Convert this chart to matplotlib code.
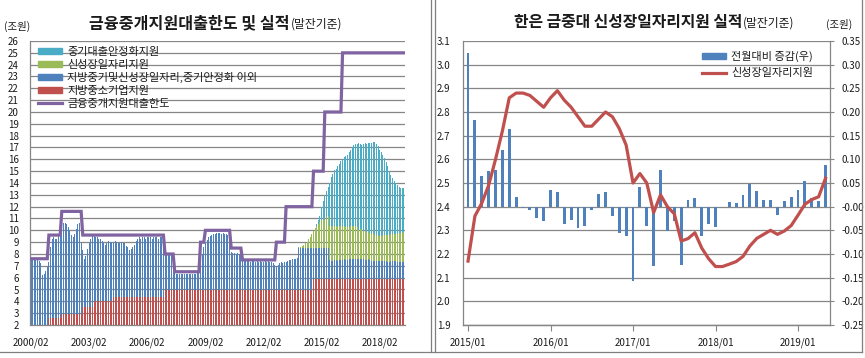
import matplotlib
matplotlib.use('Agg')
import matplotlib.pyplot as plt
import numpy as np
from matplotlib.patches import Patch
from matplotlib.lines import Line2D

plt.rcParams['font.family'] = ['Noto Sans CJK KR', 'DejaVu Sans']

# ---------------- Left chart data: monthly 2000/02 .. 2019/05 ----------------
left_tick_labels = ['2000/02', '2003/02', '2006/02', '2009/02', '2012/02', '2015/02', '2018/02']
left_tick_pos = [0, 36, 72, 108, 144, 180, 216]

# 지방중소기업지원
regional_sme = [
    1.9, 1.9, 1.9, 1.9, 1.9, 1.9, 1.9, 1.9, 1.9, 1.9, 1.9, 2.6,
    2.6, 2.6, 2.6, 2.6, 2.6, 2.6, 2.6, 2.9, 2.9, 2.9, 2.9, 2.9,
    2.9, 2.9, 2.9, 2.9, 2.9, 2.9, 2.9, 2.9, 3.5, 3.5, 3.5, 3.5,
    3.5, 3.5, 3.5, 4.0, 4.0, 4.0, 4.0, 4.0, 4.0, 4.0, 4.0, 4.0,
    4.0, 4.0, 4.0, 4.4, 4.4, 4.4, 4.4, 4.4, 4.4, 4.4, 4.4, 4.4,
    4.35, 4.35, 4.35, 4.35, 4.35, 4.35, 4.35, 4.35, 4.35, 4.35, 4.35, 4.35,
    4.35, 4.35, 4.35, 4.35, 4.35, 4.35, 4.35, 4.35, 4.35, 4.35, 4.35, 4.95,
    4.95, 4.95, 4.95, 4.95, 4.95, 4.95, 4.95, 4.95, 4.95, 4.95, 4.95, 4.95,
    4.95, 4.95, 4.95, 4.95, 4.95, 4.95, 4.95, 4.95, 4.95, 4.95, 4.95, 4.95,
    4.95, 4.95, 4.95, 4.95, 4.95, 4.95, 4.95, 4.95, 4.95, 4.95, 4.95, 4.95,
    4.95, 4.95, 4.95, 4.95, 4.95, 4.95, 4.95, 4.95, 4.95, 4.95, 4.95, 4.95,
    4.95, 4.95, 4.95, 4.95, 4.95, 4.95, 4.95, 4.95, 4.95, 4.95, 4.95, 4.95,
    4.95, 4.95, 4.95, 4.95, 4.95, 4.95, 4.95, 4.95, 4.95, 4.95, 4.95, 4.95,
    4.95, 4.95, 4.95, 4.95, 4.95, 4.95, 4.95, 4.95, 4.95, 4.95, 4.95, 4.95,
    4.95, 4.95, 4.95, 4.95, 4.95, 4.95, 4.95, 5.9, 5.9, 5.9, 5.9, 5.9,
    5.9, 5.9, 5.9, 5.9, 5.9, 5.9, 5.9, 5.9, 5.9, 5.9, 5.9, 5.9,
    5.9, 5.9, 5.9, 5.9, 5.9, 5.9, 5.9, 5.9, 5.9, 5.9, 5.9, 5.9,
    5.9, 5.9, 5.9, 5.9, 5.9, 5.9, 5.9, 5.9, 5.9, 5.9, 5.9, 5.9,
    5.9, 5.9, 5.9, 5.9, 5.9, 5.9, 5.9, 5.9, 5.9, 5.9, 5.9, 5.9,
    5.9, 5.9, 5.9, 5.9,
]

# 지방중기및신성장일자리,중기안정화 이외
other_support = [
    5.6, 5.6, 5.6, 5.6, 5.6, 5.5, 5.3, 4.3, 4.4, 4.7, 5.0, 4.7,
    6.0, 6.7, 6.8, 6.7, 6.7, 6.9, 7.4, 7.5, 7.7, 7.7, 7.6, 7.4,
    7.1, 6.7, 6.5, 6.8, 7.2, 7.6, 7.7, 6.0, 4.8, 4.1, 4.3, 4.9,
    5.4, 5.8, 6.0, 5.5, 5.4, 5.4, 5.3, 5.3, 5.1, 4.9, 4.8, 4.9,
    5.1, 5.0, 5.0, 4.5, 4.7, 4.6, 4.5, 4.5, 4.6, 4.5, 4.5, 4.3,
    4.25, 3.95, 4.05, 4.25, 4.45, 4.75, 4.95, 5.05, 4.95, 5.05, 5.05, 4.95,
    5.05, 5.05, 5.05, 4.95, 5.05, 5.05, 5.05, 4.95, 5.05, 5.05, 5.05, 3.05,
    2.95, 3.05, 2.95, 2.95, 2.65, 1.45, 1.35, 1.35, 1.35, 1.35, 1.35, 1.35,
    1.35, 1.35, 1.35, 1.35, 1.35, 1.35, 1.35, 1.45, 1.45, 2.55, 3.05, 3.65,
    3.95, 4.25, 4.45, 4.55, 4.65, 4.75, 4.75, 4.85, 4.85, 4.85, 4.75, 4.85,
    4.75, 4.75, 4.65, 4.75, 3.25, 3.15, 3.15, 3.05, 3.15, 3.05, 2.95, 2.45,
    2.45, 2.55, 2.45, 2.45, 2.35, 2.45, 2.45, 2.35, 2.45, 2.35, 2.45, 2.35,
    2.35, 2.45, 2.35, 2.45, 2.35, 2.35, 2.25, 2.15, 2.05, 2.15, 2.25, 2.35,
    2.25, 2.35, 2.35, 2.45, 2.55, 2.55, 2.65, 2.65, 2.65, 2.75, 3.55, 3.55,
    3.55, 3.55, 3.55, 3.55, 3.55, 3.55, 3.55, 2.6, 2.6, 2.6, 2.6, 2.6,
    2.6, 2.6, 2.6, 2.6, 2.6, 1.6, 1.55, 1.55, 1.6, 1.6, 1.55, 1.6,
    1.6, 1.6, 1.65, 1.6, 1.6, 1.65, 1.7, 1.7, 1.65, 1.7, 1.7, 1.65,
    1.65, 1.7, 1.65, 1.6, 1.6, 1.65, 1.6, 1.55, 1.55, 1.5, 1.5, 1.5,
    1.5, 1.5, 1.5, 1.5, 1.5, 1.45, 1.45, 1.5, 1.5, 1.5, 1.5, 1.45,
    1.45, 1.45, 1.45, 1.45,
]

# 신성장일자리지원
growth_jobs = [
    0, 0, 0, 0, 0, 0, 0, 0, 0, 0, 0, 0,
    0, 0, 0, 0, 0, 0, 0, 0, 0, 0, 0, 0,
    0, 0, 0, 0, 0, 0, 0, 0, 0, 0, 0, 0,
    0, 0, 0, 0, 0, 0, 0, 0, 0, 0, 0, 0,
    0, 0, 0, 0, 0, 0, 0, 0, 0, 0, 0, 0,
    0, 0, 0, 0, 0, 0, 0, 0, 0, 0, 0, 0,
    0, 0, 0, 0, 0, 0, 0, 0, 0, 0, 0, 0,
    0, 0, 0, 0, 0, 0, 0, 0, 0, 0, 0, 0,
    0, 0, 0, 0, 0, 0, 0, 0, 0, 0, 0, 0,
    0, 0, 0, 0, 0, 0, 0, 0, 0, 0, 0, 0,
    0, 0, 0, 0, 0, 0, 0, 0, 0, 0, 0, 0,
    0, 0, 0, 0, 0, 0, 0, 0, 0, 0, 0, 0,
    0, 0, 0, 0, 0, 0, 0, 0, 0, 0, 0, 0,
    0, 0, 0, 0, 0, 0, 0, 0, 0, 0, 0.05, 0.1,
    0.15, 0.25, 0.4, 0.55, 0.75, 0.95, 1.2, 1.45, 1.7, 1.9, 2.05, 2.17,
    2.36, 2.415, 2.49, 2.60, 2.72, 2.86, 2.88, 2.88, 2.87, 2.845, 2.82, 2.86,
    2.89, 2.85, 2.82, 2.78, 2.74, 2.74, 2.77, 2.80, 2.78, 2.73, 2.66, 2.50,
    2.54, 2.50, 2.375, 2.45, 2.40, 2.37, 2.255, 2.265, 2.29, 2.225, 2.18, 2.147,
    2.147, 2.157, 2.168, 2.19, 2.234, 2.266, 2.283, 2.30, 2.283, 2.297, 2.32, 2.364,
    2.41, 2.43, 2.442, 2.52,
]

# 중기대출안정화지원
sme_stabilization = [
    0, 0, 0, 0, 0, 0, 0, 0, 0, 0, 0, 0,
    0, 0, 0, 0, 0, 0, 0, 0, 0, 0, 0, 0,
    0, 0, 0, 0, 0, 0, 0, 0, 0, 0, 0, 0,
    0, 0, 0, 0, 0, 0, 0, 0, 0, 0, 0, 0,
    0, 0, 0, 0, 0, 0, 0, 0, 0, 0, 0, 0,
    0, 0, 0, 0, 0, 0, 0, 0, 0, 0, 0, 0,
    0, 0, 0, 0, 0, 0, 0, 0, 0, 0, 0, 0,
    0, 0, 0, 0, 0, 0, 0, 0, 0, 0, 0, 0,
    0, 0, 0, 0, 0, 0, 0, 0, 0, 0, 0, 0,
    0, 0, 0, 0, 0, 0, 0, 0, 0, 0, 0, 0,
    0, 0, 0, 0, 0, 0, 0, 0, 0, 0, 0, 0,
    0, 0, 0, 0, 0, 0, 0, 0, 0, 0, 0, 0,
    0, 0, 0, 0, 0, 0, 0, 0, 0, 0, 0, 0,
    0, 0, 0, 0, 0, 0, 0, 0, 0, 0, 0, 0,
    0, 0, 0, 0, 0, 0, 0, 0, 0, 0.1, 0.3, 0.53,
    1.14, 1.6, 2.0, 2.2, 2.4, 3.65, 4.15, 4.45, 4.73, 4.88, 5.13, 5.24,
    5.51, 5.65, 5.83, 6.02, 6.16, 6.31, 6.43, 6.6, 6.87, 6.97, 7.04, 7.3,
    7.21, 7.15, 7.38, 7.4, 7.4, 7.48, 7.6, 7.68, 7.71, 7.88, 7.72, 7.55,
    7.25, 7.04, 6.83, 6.51, 6.17, 5.78, 5.37, 5.0, 4.72, 4.5, 4.28, 4.09,
    3.94, 3.82, 3.81, 3.73,
]

# 금융중개지원대출한도
loan_limit = [
    7.6, 7.6, 7.6, 7.6, 7.6, 7.6, 7.6, 7.6, 7.6, 7.6, 7.6, 9.6,
    9.6, 9.6, 9.6, 9.6, 9.6, 9.6, 9.6, 11.6, 11.6, 11.6, 11.6, 11.6,
    11.6, 11.6, 11.6, 11.6, 11.6, 11.6, 11.6, 11.6, 9.6, 9.6, 9.6, 9.6,
    9.6, 9.6, 9.6, 9.6, 9.6, 9.6, 9.6, 9.6, 9.6, 9.6, 9.6, 9.6,
    9.6, 9.6, 9.6, 9.6, 9.6, 9.6, 9.6, 9.6, 9.6, 9.6, 9.6, 9.6,
    9.6, 9.6, 9.6, 9.6, 9.6, 9.6, 9.6, 9.6, 9.6, 9.6, 9.6, 9.6,
    9.6, 9.6, 9.6, 9.6, 9.6, 9.6, 9.6, 9.6, 9.6, 9.6, 9.6, 8.0,
    8.0, 8.0, 8.0, 8.0, 8.0, 6.5, 6.5, 6.5, 6.5, 6.5, 6.5, 6.5,
    6.5, 6.5, 6.5, 6.5, 6.5, 6.5, 6.5, 6.5, 6.5, 9.0, 9.0, 9.0,
    10.0, 10.0, 10.0, 10.0, 10.0, 10.0, 10.0, 10.0, 10.0, 10.0, 10.0, 10.0,
    10.0, 10.0, 10.0, 10.0, 8.5, 8.5, 8.5, 8.5, 8.5, 8.5, 8.5, 7.5,
    7.5, 7.5, 7.5, 7.5, 7.5, 7.5, 7.5, 7.5, 7.5, 7.5, 7.5, 7.5,
    7.5, 7.5, 7.5, 7.5, 7.5, 7.5, 7.5, 7.5, 9.0, 9.0, 9.0, 9.0,
    9.0, 9.0, 12.0, 12.0, 12.0, 12.0, 12.0, 12.0, 12.0, 12.0, 12.0, 12.0,
    12.0, 12.0, 12.0, 12.0, 12.0, 12.0, 12.0, 15.0, 15.0, 15.0, 15.0, 15.0,
    15.0, 15.0, 20.0, 20.0, 20.0, 20.0, 20.0, 20.0, 20.0, 20.0, 20.0, 20.0,
    20.0, 25.0, 25.0, 25.0, 25.0, 25.0, 25.0, 25.0, 25.0, 25.0, 25.0, 25.0,
    25.0, 25.0, 25.0, 25.0, 25.0, 25.0, 25.0, 25.0, 25.0, 25.0, 25.0, 25.0,
    25.0, 25.0, 25.0, 25.0, 25.0, 25.0, 25.0, 25.0, 25.0, 25.0, 25.0, 25.0,
    25.0, 25.0, 25.0, 25.0,
]

# ---------------- Right chart data: monthly 2015/01 .. 2019/05 ----------------
right_tick_labels = ['2015/01', '2016/01', '2017/01', '2018/01', '2019/01']
right_tick_pos = [0, 12, 24, 36, 48]

jobs_level = [
    2.17, 2.36, 2.415, 2.49, 2.60, 2.72, 2.86, 2.88, 2.88, 2.87, 2.845, 2.82,
    2.86, 2.89, 2.85, 2.82, 2.78, 2.74, 2.74, 2.77, 2.80, 2.78, 2.73, 2.66,
    2.50, 2.54, 2.50, 2.375, 2.45, 2.40, 2.37, 2.255, 2.265, 2.29, 2.225, 2.18,
    2.147, 2.147, 2.157, 2.168, 2.19, 2.234, 2.266, 2.283, 2.30, 2.283, 2.297, 2.32,
    2.364, 2.41, 2.43, 2.442, 2.52,
]
jobs_change = [
    0.324, 0.183, 0.065, 0.075, 0.078, 0.12, 0.164, 0.02, -0.003, -0.007, -0.023, -0.03,
    0.035, 0.03, -0.037, -0.028, -0.046, -0.041, -0.007, 0.027, 0.03, -0.019, -0.056, -0.063,
    -0.158, 0.042, -0.041, -0.126, 0.077, -0.052, -0.03, -0.124, 0.014, 0.018, -0.063, -0.037,
    -0.042, 0.0, 0.01, 0.008, 0.024, 0.047, 0.034, 0.015, 0.015, -0.017, 0.011, 0.021,
    0.036, 0.055, 0.019, 0.011, 0.088,
]

BLUE = '#4F81BD'
RED = '#C0504D'
GREEN = '#9BBB59'
CYAN = '#4BACC6'
PURPLE = '#8064A2'
GRID = '#868686'
TXT = '#1a1a1a'

W, H = 865, 358
fig = plt.figure(figsize=(W / 100, H / 100), dpi=100)


def frac(x0, y0, x1, y1):
    return [x0 / W, 1 - y1 / H, (x1 - x0) / W, (y1 - y0) / H]


# ---------------- Left panel ----------------
ax1 = fig.add_axes(frac(30, 41, 405, 325))
m = np.arange(len(regional_sme))
r = np.array(regional_sme)
b = np.array(other_support)
g = np.array(growth_jobs)
c = np.array(sme_stabilization)
bw = 0.62
ax1.bar(m, r, bw, color=RED, linewidth=0, zorder=2)
ax1.bar(m, b, bw, bottom=r, color=BLUE, linewidth=0, zorder=2)
ax1.bar(m, g, bw, bottom=r + b, color=GREEN, linewidth=0, zorder=2)
ax1.bar(m, c, bw, bottom=r + b + g, color=CYAN, linewidth=0, zorder=2)
ax1.plot(m, loan_limit, color=PURPLE, lw=2.3, zorder=4, solid_joinstyle='miter')

ax1.set_xlim(-0.7, len(m) - 0.3)
ax1.set_ylim(2, 26)
ax1.set_yticks(range(2, 27))
ax1.set_xticks(left_tick_pos)
ax1.set_xticklabels(left_tick_labels)
ax1.grid(axis='y', color=GRID, lw=0.9, zorder=0)
ax1.set_axisbelow(True)
for s in ['top', 'right']:
    ax1.spines[s].set_visible(False)
for s in ['left', 'bottom']:
    ax1.spines[s].set_color(GRID)
    ax1.spines[s].set_linewidth(0.9)
ax1.tick_params(axis='both', length=0, labelsize=7, colors=TXT)
ax1.tick_params(axis='y', pad=8)
ax1.tick_params(axis='x', pad=9)

handles1 = [Patch(color=CYAN), Patch(color=GREEN), Patch(color=BLUE), Patch(color=RED),
            Line2D([], [], color=PURPLE, lw=2.3)]
labels1 = ['중기대출안정화지원', '신성장일자리지원', '지방중기및신성장일자리,중기안정화 이외',
           '지방중소기업지원', '금융중개지원대출한도']
fig.legend(handles1, labels1, loc='upper left', bbox_to_anchor=(38 / W, 1 - 47 / H),
           frameon=False, fontsize=8, handlelength=2.2, handleheight=0.45,
           handletextpad=0.45, labelspacing=0.24, borderpad=0, borderaxespad=0,
           labelcolor=TXT)

fig.text(290 / W, 1 - 28 / H, '금융중개지원대출한도 및 실적', ha='right', va='baseline',
         fontsize=11.6, fontweight='bold', color=TXT)
fig.text(291 / W, 1 - 28 / H, '(말잔기준)', ha='left', va='baseline', fontsize=8.5, color=TXT)
fig.text(4 / W, 1 - 30 / H, '(조원)', ha='left', va='baseline', fontsize=7.5, color=TXT)

# ---------------- Right panel ----------------
ax2 = fig.add_axes(frac(463, 41, 830, 325))
ax2r = ax2.twinx()
k = np.arange(len(jobs_level))
ax2r.bar(k, jobs_change, 0.42, color=BLUE, linewidth=0, zorder=2)
ax2.plot(k, jobs_level, color=RED, lw=2.3, zorder=4)

ax2.set_zorder(ax2r.get_zorder() + 1)
ax2.patch.set_visible(False)

ax2.set_xlim(-0.73, 52.65)
ax2.set_ylim(1.9, 3.1)
ax2.set_yticks(np.round(np.arange(1.9, 3.101, 0.1), 2))
ax2.set_yticklabels([f'{v:.1f}' for v in np.arange(1.9, 3.101, 0.1)])
ax2r.set_ylim(-0.25, 0.35)
rt = np.round(np.arange(-0.25, 0.3501, 0.05), 2)
ax2r.set_yticks(rt)
ax2r.set_yticklabels([f'{v:.2f}' for v in rt])
ax2r.grid(axis='y', color=GRID, lw=0.9, zorder=0)
ax2r.set_axisbelow(True)
ax2.set_xticks(right_tick_pos)
ax2.set_xticklabels(right_tick_labels)

for a in (ax2, ax2r):
    a.spines['top'].set_visible(False)
    for s in ['left', 'right', 'bottom']:
        a.spines[s].set_color(GRID)
        a.spines[s].set_linewidth(0.9)
ax2.spines['right'].set_visible(False)
ax2r.spines['left'].set_visible(False)
ax2.tick_params(axis='y', length=0, labelsize=7, colors=TXT, pad=9)
ax2.tick_params(axis='x', length=4, color=GRID, labelsize=7, colors=TXT, pad=5)
ax2r.tick_params(axis='y', length=3, color=GRID, labelsize=7, colors=TXT, pad=5)

handles2 = [Patch(color=BLUE), Line2D([], [], color=RED, lw=2.3)]
labels2 = ['전월대비 증감(우)', '신성장일자리지원']
fig.legend(handles2, labels2, loc='upper left', bbox_to_anchor=(702 / W, 1 - 51 / H),
           frameon=False, fontsize=8, handlelength=2.2, handleheight=0.45,
           handletextpad=0.45, labelspacing=0.55, borderpad=0, borderaxespad=0,
           labelcolor=TXT)

fig.text(742 / W, 1 - 27 / H, '한은 금중대 신성장일자리지원 실적', ha='right', va='baseline',
         fontsize=11.4, fontweight='bold', color=TXT)
fig.text(743 / W, 1 - 27 / H, '(말잔기준)', ha='left', va='baseline', fontsize=8.5, color=TXT)
fig.text(826 / W, 1 - 28 / H, '(조원)', ha='left', va='baseline', fontsize=7.5, color=TXT)

# ---------------- panel frames ----------------
fc = '#7f7f7f'
fig.add_artist(Line2D([430.5 / W, 430.5 / W], [1 - 352 / H, 1], color=fc, lw=0.9))
fig.add_artist(Line2D([434.5 / W, 434.5 / W], [1 - 352 / H, 1], color=fc, lw=0.9))
fig.add_artist(Line2D([0, 862 / W], [1 - 352 / H, 1 - 352 / H], color=fc, lw=0.9))
fig.add_artist(Line2D([862 / W, 862 / W], [1 - 352 / H, 1], color=fc, lw=0.9))

fig.savefig('out.png', dpi=100, facecolor='white')
